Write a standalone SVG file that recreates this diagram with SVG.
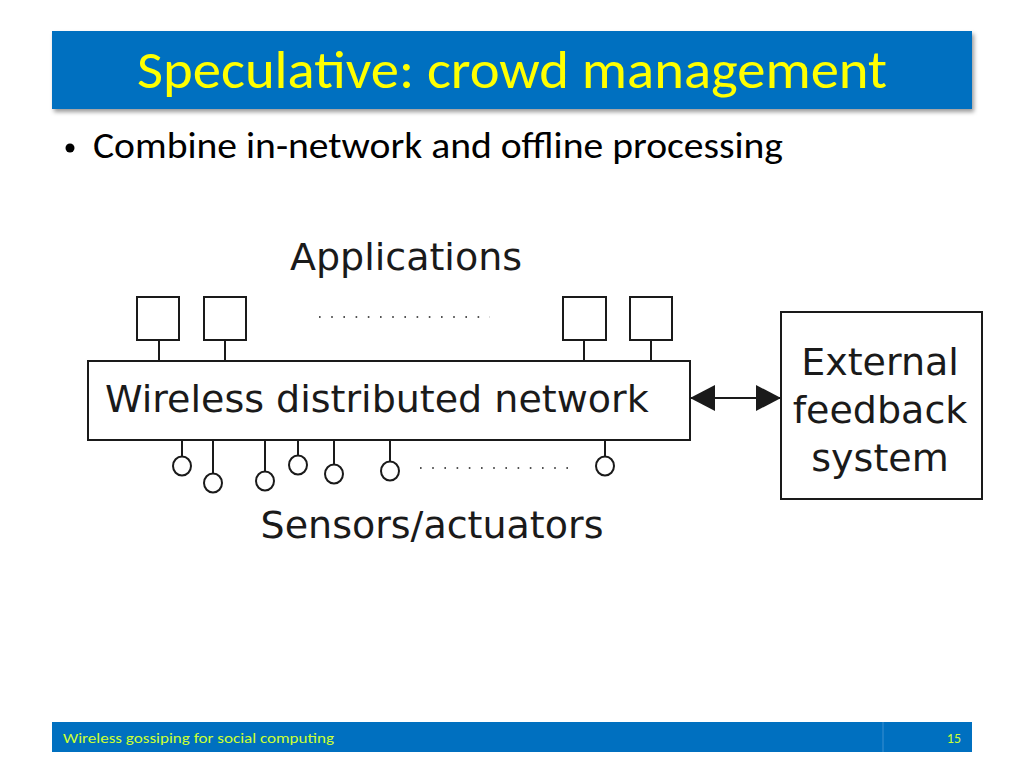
<svg xmlns="http://www.w3.org/2000/svg" width="1024" height="768" viewBox="0 0 1024 768">
<defs>
<style>
.ln{stroke:#1a1a1a;stroke-width:2;fill:none}
.bx{stroke:#1a1a1a;stroke-width:2;fill:#fff}
.dg{font-family:"DejaVu Sans",Verdana,sans-serif;font-size:38px;fill:#1a1a1a}
.dots{stroke:#1a1a1a;stroke-width:1.6;stroke-dasharray:1.6 10.6;fill:none}
</style>
<marker id="ah" viewBox="0 0 25 26" refX="25" refY="13" markerWidth="25" markerHeight="26" markerUnits="userSpaceOnUse" orient="auto-start-reverse">
<path d="M0,0 L25,13 L0,26 Z" fill="#1a1a1a"/>
</marker>
<filter id="sh" x="-5%" y="-20%" width="110%" height="150%">
<feDropShadow dx="2" dy="3" stdDeviation="2" flood-color="#000" flood-opacity="0.4"/>
</filter>
</defs>
<rect width="1024" height="768" fill="#fff"/>
<g id="title">
<rect x="52" y="31" width="920" height="78" fill="#0070C0" filter="url(#sh)"/>
<text x="137" y="88" font-family="Carlito,'Open Sans',sans-serif" font-size="54" fill="#FFFF00" textLength="750" lengthAdjust="spacingAndGlyphs">Speculative: crowd management</text>
</g>
<g id="bullet">
<circle cx="70" cy="148" r="4.5" fill="#000"/>
<text x="93" y="158" font-family="Carlito,'Open Sans',sans-serif" font-size="36" fill="#000" textLength="690" lengthAdjust="spacingAndGlyphs">Combine in-network and offline processing</text>
</g>
<g id="connectors">
<line class="ln" x1="159" y1="340" x2="159" y2="362"/>
<line class="ln" x1="225" y1="340" x2="225" y2="362"/>
<line class="ln" x1="584" y1="340" x2="584" y2="362"/>
<line class="ln" x1="651" y1="340" x2="651" y2="362"/>
<line class="ln" x1="182" y1="440" x2="182" y2="457"/>
<line class="ln" x1="213" y1="440" x2="213" y2="474"/>
<line class="ln" x1="265" y1="440" x2="265" y2="472"/>
<line class="ln" x1="298" y1="440" x2="298" y2="456"/>
<line class="ln" x1="334" y1="440" x2="334" y2="465"/>
<line class="ln" x1="390" y1="440" x2="390" y2="462"/>
<line class="ln" x1="605" y1="440" x2="605" y2="457"/>
<line class="ln" x1="690" y1="398" x2="781" y2="398" marker-start="url(#ah)" marker-end="url(#ah)"/>
<path class="dots" d="M319,317 H490"/>
<path class="dots" d="M420,468 H578"/>
</g>
<g id="applications">
<text class="dg" x="406" y="270" text-anchor="middle">Applications</text>
<rect class="bx" x="137" y="297" width="42" height="43"/>
<rect class="bx" x="204" y="297" width="42" height="43"/>
<rect class="bx" x="563" y="297" width="43" height="43"/>
<rect class="bx" x="630" y="297" width="42" height="43"/>
</g>
<g id="network">
<rect class="bx" x="88" y="361" width="602" height="79"/>
<text class="dg" x="105" y="412">Wireless distributed network</text>
</g>
<g id="sensors">
<ellipse class="bx" cx="182" cy="466" rx="9" ry="9.5"/>
<ellipse class="bx" cx="213" cy="483" rx="9" ry="9.5"/>
<ellipse class="bx" cx="265" cy="481" rx="9" ry="9.5"/>
<ellipse class="bx" cx="298" cy="465" rx="9" ry="9.5"/>
<ellipse class="bx" cx="334" cy="474" rx="9" ry="9.5"/>
<ellipse class="bx" cx="390" cy="471" rx="9" ry="9.5"/>
<ellipse class="bx" cx="605" cy="466" rx="9" ry="9.5"/>
<text class="dg" x="432" y="538" text-anchor="middle">Sensors/actuators</text>
</g>
<g id="external">
<rect class="bx" x="781" y="312" width="201" height="187"/>
<text class="dg" x="880" y="375" text-anchor="middle">External</text>
<text class="dg" x="880" y="423" text-anchor="middle">feedback</text>
<text class="dg" x="880" y="471" text-anchor="middle">system</text>
</g>
<g id="footer">
<rect x="52" y="722" width="920" height="30" fill="#0070C0"/>
<line x1="883" y1="722" x2="883" y2="752" stroke="#3b8fd0" stroke-width="1"/>
<text x="63" y="743" font-family="Carlito,'Open Sans',sans-serif" font-size="14" fill="#CCFF33" textLength="271" lengthAdjust="spacingAndGlyphs">Wireless gossiping for social computing</text>
<text x="961" y="743" font-family="Carlito,'Open Sans',sans-serif" font-size="14" fill="#CCFF33" text-anchor="end">15</text>
</g>
</svg>
